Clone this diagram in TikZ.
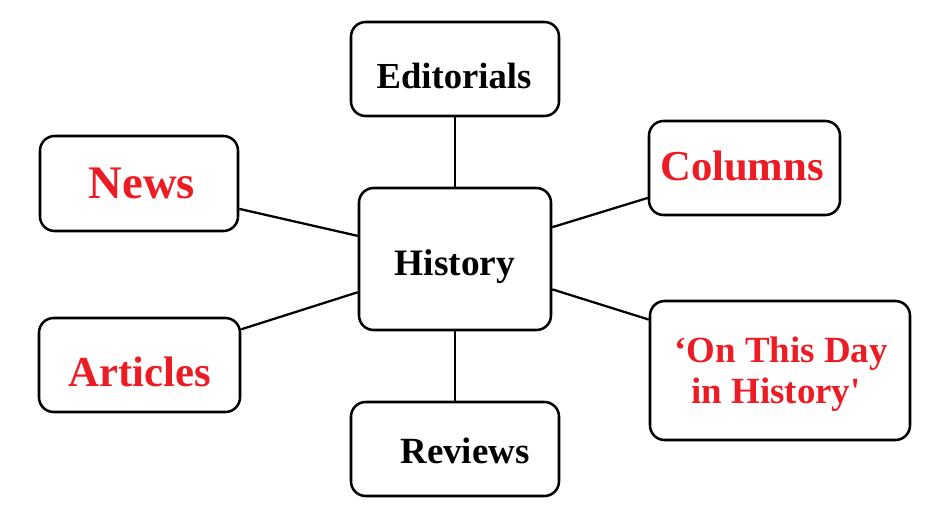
\documentclass[tikz,border=0pt]{standalone}
\usepackage{fontspec}
\setmainfont{Liberation Serif}[Ligatures=TeXOff]
\usetikzlibrary{calc}
\definecolor{hred}{RGB}{237,28,36}
\begin{document}
\begin{tikzpicture}[x=0.75pt,y=-0.75pt,
  box/.style={draw=black, line width=1.9pt, rounded corners=11pt, fill=white, inner sep=0pt},
  link/.style={draw=black, line width=1.7pt},
  txt/.style={inner sep=0pt, anchor=base, font=\bfseries}]
\useasboundingbox (0,0) rectangle (939,511);
% boxes
\node[box, minimum width=208*0.75pt, minimum height=94*0.75pt] (edit) at (455,69) {};
\node[box, minimum width=192*0.75pt, minimum height=142*0.75pt] (hist) at (455,259) {};
\node[box, minimum width=198*0.75pt, minimum height=95*0.75pt] (news) at (139,183.5) {};
\node[box, minimum width=191*0.75pt, minimum height=94*0.75pt] (col) at (744.5,168) {};
\node[box, minimum width=201*0.75pt, minimum height=94*0.75pt] (art) at (139.5,365) {};
\node[box, minimum width=260*0.75pt, minimum height=139*0.75pt] (otd) at (780,370.5) {};
\node[box, minimum width=208*0.75pt, minimum height=94*0.75pt] (rev) at (455,449) {};
% connectors
\draw[link] (edit.south) -- (hist.north);
\draw[link] (hist.south) -- (rev.north);
\draw[link] ($(news.south east)!0.24!(news.north east)$) -- ($(hist.south west)!0.66!(hist.north west)$);
\draw[link] ($(col.south west)!0.19!(col.north west)$) -- ($(hist.south east)!0.72!(hist.north east)$);
\draw[link] ($(art.south east)!0.87!(art.north east)$) -- ($(hist.south west)!0.27!(hist.north west)$);
\draw[link] ($(otd.south west)!0.86!(otd.north west)$) -- ($(hist.south east)!0.29!(hist.north east)$);
% texts
\node[txt, font=\bfseries\fontsize{27.5pt}{32pt}\selectfont] (tedit) at (454,88) {Editorials};
\node[txt, font=\bfseries\fontsize{28pt}{33pt}\selectfont] (thist) at (455,275) {History};
\node[txt, text=hred, font=\bfseries\fontsize{35pt}{40pt}\selectfont] (tnews) at (142,198) {News};
\node[txt, text=hred, font=\bfseries\fontsize{32pt}{38pt}\selectfont] (tcol) at (742,180) {Columns};
\node[txt, text=hred, font=\bfseries\fontsize{32pt}{38pt}\selectfont] (tart) at (140,386) {Articles};
\node[txt, text=hred, font=\bfseries\fontsize{27.7pt}{33pt}\selectfont] (totd1) at (781,362) {‘On This Day};
\node[txt, text=hred, font=\bfseries\fontsize{27.7pt}{33pt}\selectfont] (totd2) at (776,403) {in History'};
\node[txt, font=\bfseries\fontsize{27.7pt}{33pt}\selectfont] (trev) at (465,463) {Reviews};
\end{tikzpicture}
\end{document}
